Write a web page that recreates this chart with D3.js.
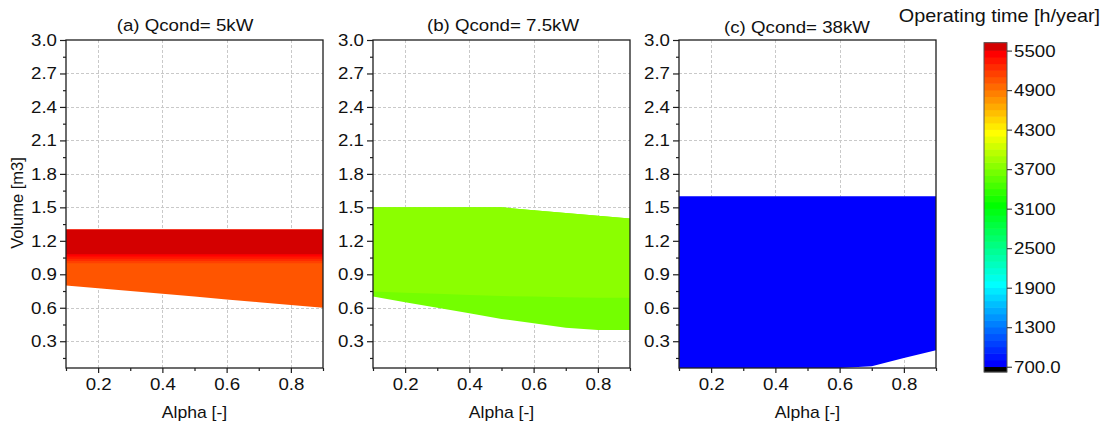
<!DOCTYPE html>
<html>
<head>
<meta charset="utf-8">
<script src="https://cdn.jsdelivr.net/npm/d3@7"></script>
<style>
  html, body { margin: 0; padding: 0; background: #fff; }
  svg { display: block; }
</style>
</head>
<body>
<svg id="chart" width="1105" height="428"></svg>
<script>
// ---- data -------------------------------------------------------------
// Alpha sample positions shared by all three maps
const alpha = [0.1, 0.2, 0.3, 0.4, 0.5, 0.6, 0.7, 0.8, 0.9];

// (a) Qcond = 5 kW : iso-time edges (bottom -> top) and band times
const aEdgeLow   = [0.80, 0.775, 0.75, 0.725, 0.70, 0.675, 0.65, 0.625, 0.60];
const aEdgeFlat  = [1.00, 1.02, 1.04, 1.06, 1.08, 1.30];
const aTimes     = [5050, 5150, 5250, 5350, 5450, 5550];

// (b) Qcond = 7.5 kW
const bEdgeLow   = [0.70, 0.65, 0.60, 0.55, 0.50, 0.46, 0.42, 0.40, 0.40];
const bEdgeMid   = [0.745, 0.735, 0.725, 0.715, 0.705, 0.70, 0.695, 0.69, 0.69];
const bEdgeTop   = [1.50, 1.50, 1.50, 1.50, 1.50, 1.475, 1.45, 1.425, 1.40];
const bTimes     = [3650, 3750];

// (c) Qcond = 38 kW
const cEdgeLow   = [0.05, 0.05, 0.05, 0.05, 0.05, 0.06, 0.075, 0.15, 0.22];
const cEdgeTop   = [1.60, 1.60, 1.60, 1.60, 1.60, 1.60, 1.60, 1.60, 1.60];
const cTimes     = [750];

const panelTitles = ["(a) Qcond= 5kW", "(b) Qcond= 7.5kW", "(c) Qcond= 38kW"];

// axis ticks
const volumeTicks = [0.3, 0.6, 0.9, 1.2, 1.5, 1.8, 2.1, 2.4, 2.7, 3.0];
const volumeMinor = [0.15, 0.45, 0.75, 1.05, 1.35, 1.65, 1.95, 2.25, 2.55, 2.85];
const alphaTicks  = [0.2, 0.4, 0.6, 0.8];
const alphaMinor  = [0.1, 0.3, 0.5, 0.7, 0.9];

// colour bar
const timeTicks      = [700, 1300, 1900, 2500, 3100, 3700, 4300, 4900, 5500];
const timeTickLabels = ["700.0", "1300", "1900", "2500", "3100", "3700", "4300", "4900", "5500"];
const paletteStops   = [700, 1900, 3100, 4200, 5400];
const paletteColors  = ["#0000ff", "#00ffff", "#00ff00", "#ffff00", "#ff0000"];

// ---- helpers ----------------------------------------------------------
const FONT = "'Liberation Sans', Arial, Helvetica, sans-serif";
const STRETCH = 1.1;
const LEVEL_STEP = 100, LEVEL_MIN = 700, LEVEL_MAX = 5500;
const paletteScale = d3.scaleLinear().domain(paletteStops).range(paletteColors)
  .interpolate(d3.interpolateRgb).clamp(true);

// contour band colour: every 100 h/year level gets one flat colour
function bandColor(v) {
  if (v < LEVEL_MIN) return "#000000";
  if (v >= LEVEL_MAX) return "#d40000";
  const lower = Math.floor(v / LEVEL_STEP) * LEVEL_STEP;
  return paletteScale(lower);
}

function stretchText(sel) {
  sel.each(function () {
    const t = d3.select(this);
    const x = +t.attr("x") || 0, y = +t.attr("y") || 0;
    t.attr("x", 0).attr("y", 0)
     .attr("transform", `translate(${x},${y}) scale(${STRETCH},1)`);
  });
}

const flat = v => alpha.map(() => v);

const panels = [
  { title: panelTitles[0], left: 66,  titleX: 185, titleY: 31,
    edges: [aEdgeLow, ...aEdgeFlat.map(flat)], times: aTimes },
  { title: panelTitles[1], left: 373, titleX: 503, titleY: 31,
    edges: [bEdgeLow, bEdgeMid, bEdgeTop], times: bTimes },
  { title: panelTitles[2], left: 679, titleX: 797, titleY: 33,
    edges: [cEdgeLow, cEdgeTop], times: cTimes }
];

// ---- layout -----------------------------------------------------------
const svg = d3.select("#chart");
const plotTop = 40, plotBottom = 368, plotWidth = 257;
const frameColor = "#1e1e1e";

const y = d3.scaleLinear().domain([0.06, 3.0]).range([plotBottom, plotTop]);

panels.forEach((p, i) => {
  const x = d3.scaleLinear().domain([0.1, 0.9]).range([p.left, p.left + plotWidth]);
  const g = svg.append("g");

  const clipId = "clip" + i;
  svg.append("clipPath").attr("id", clipId).append("rect")
    .attr("x", p.left).attr("y", plotTop)
    .attr("width", plotWidth).attr("height", plotBottom - plotTop);

  // dashed grid
  const grid = g.append("g").attr("stroke", "#c9c9c9").attr("stroke-width", 1)
    .attr("stroke-dasharray", "3,2");
  grid.selectAll("line.gx").data(alphaTicks).join("line")
    .attr("x1", d => Math.round(x(d)) + 0.5).attr("x2", d => Math.round(x(d)) + 0.5)
    .attr("y1", plotTop).attr("y2", plotBottom);
  grid.selectAll("line.gy").data(volumeTicks.slice(0, -1)).join("line")
    .attr("y1", d => Math.round(y(d)) + 0.5).attr("y2", d => Math.round(y(d)) + 0.5)
    .attr("x1", p.left).attr("x2", p.left + plotWidth);

  // filled iso-time bands; each band is painted up to the outer edge so
  // neighbouring bands overlap instead of leaving seams
  const top = p.edges[p.edges.length - 1];
  const fills = g.append("g").attr("clip-path", `url(#${clipId})`);
  p.times.forEach((t, k) => {
    const lowEdge = p.edges[k];
    const area = d3.area()
      .x((d, j) => x(alpha[j]))
      .y0((d, j) => y(lowEdge[j]))
      .y1((d, j) => y(top[j]));
    fills.append("path").datum(alpha).attr("d", area).attr("fill", bandColor(t));
  });

  // axes
  const yAxis = g.append("g").attr("transform", `translate(${p.left},0)`)
    .call(d3.axisLeft(y).tickValues(volumeTicks).tickFormat(d3.format(".1f"))
      .tickSize(6).tickPadding(3));
  const yMinor = g.append("g").attr("transform", `translate(${p.left},0)`)
    .call(d3.axisLeft(y).tickValues(volumeMinor).tickFormat("").tickSize(3));
  const xAxis = g.append("g").attr("transform", `translate(0,${plotBottom})`)
    .call(d3.axisBottom(x).tickValues(alphaTicks).tickFormat(d3.format(".1f"))
      .tickSize(5).tickPadding(5));
  const xMinor = g.append("g").attr("transform", `translate(0,${plotBottom})`)
    .call(d3.axisBottom(x).tickValues(alphaMinor).tickFormat("").tickSize(3));

  [yAxis, yMinor, xAxis, xMinor].forEach(a => {
    a.select(".domain").remove();
    a.attr("font-size", 17).attr("font-family", FONT);
    a.selectAll("line").attr("stroke", frameColor).attr("stroke-width", 1.2);
    a.selectAll("text").attr("fill", "#111");
    stretchText(a.selectAll("text"));
  });

  // frame
  g.append("rect").attr("x", p.left).attr("y", plotTop)
    .attr("width", plotWidth).attr("height", plotBottom - plotTop)
    .attr("fill", "none").attr("stroke", frameColor).attr("stroke-width", 1.3);

  // titles
  const tt = g.append("text").attr("x", p.titleX).attr("y", p.titleY)
    .attr("text-anchor", "middle").attr("font-family", FONT).attr("font-size", 17)
    .attr("fill", "#111").text(p.title);
  stretchText(tt);

  const xl = g.append("text").attr("x", p.left + plotWidth / 2).attr("y", 418)
    .attr("text-anchor", "middle").attr("font-family", FONT).attr("font-size", 16)
    .attr("fill", "#111").text("Alpha [-]");
  stretchText(xl);
});

// y-axis label on the first map
svg.append("text")
  .attr("transform", "translate(23,203) rotate(-90)")
  .attr("text-anchor", "middle").attr("font-family", FONT).attr("font-size", 16.5)
  .attr("fill", "#111").text("Volume [m3]");

// ---- colour bar ---------------------------------------------------------
const barLeft = 984, barWidth = 23, barTop = 42.7, barBottom = 372;
const c = d3.scaleLinear().domain([620, 5620]).range([barBottom, barTop]);

const bands = [[620, LEVEL_MIN]]
  .concat(d3.range(LEVEL_MIN, LEVEL_MAX, LEVEL_STEP).map(v => [v, v + LEVEL_STEP]))
  .concat([[LEVEL_MAX, 5620]]);

const bar = svg.append("g");
bar.selectAll("rect.band").data(bands).join("rect")
  .attr("x", barLeft).attr("width", barWidth)
  .attr("y", d => c(d[1]) - 0.3)
  .attr("height", d => c(d[0]) - c(d[1]) + 0.6)
  .attr("fill", d => bandColor(d[0]));
bar.append("rect").attr("x", barLeft).attr("y", barTop)
  .attr("width", barWidth).attr("height", barBottom - barTop)
  .attr("fill", "none").attr("stroke", "#555").attr("stroke-width", 1);

const cAxis = bar.append("g").attr("transform", `translate(${barLeft + barWidth},0)`)
  .call(d3.axisRight(c).tickValues(timeTicks)
    .tickFormat((d, i) => timeTickLabels[i]).tickSize(5).tickPadding(2));
cAxis.select(".domain").remove();
cAxis.attr("font-size", 17).attr("font-family", FONT);
cAxis.selectAll("line").attr("stroke", "#333").attr("stroke-width", 1.1);
cAxis.selectAll("text").attr("fill", "#111");
stretchText(cAxis.selectAll("text"));

const cTitle = svg.append("text").attr("x", 1100).attr("y", 22)
  .attr("text-anchor", "end").attr("font-family", FONT).attr("font-size", 18)
  .attr("fill", "#111").text("Operating time [h/year]");
stretchText(cTitle);
</script>
</body>
</html>
